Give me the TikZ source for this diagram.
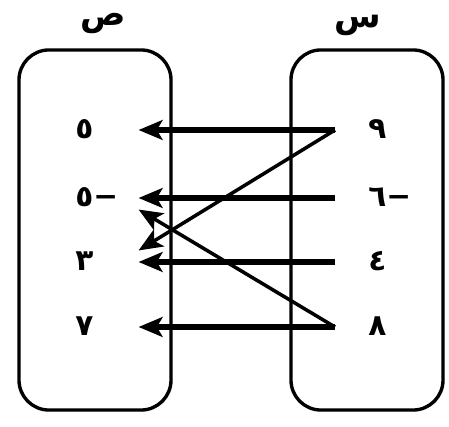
\documentclass[tikz,border=0pt]{standalone}
\usepackage{fontspec}
\newfontfamily\arabicfont[Script=Arabic]{DejaVu Sans}
\TeXXeTstate=1
\usepackage{tikz}
\usetikzlibrary{arrows.meta,shadows}
\tikzset{
  setbox/.style = {draw, line width=2.4pt, rounded corners=0.75cm, fill=white,
                   minimum width=3.8cm, minimum height=9cm,
                   drop shadow={opacity=0.3, shadow xshift=0.8pt, shadow yshift=-1pt}},
  setlab/.style = {font=\arabicfont\bfseries\fontsize{24}{28}\selectfont, inner sep=0pt},
  elem/.style   = {font=\arabicfont\bfseries\fontsize{21}{25}\selectfont, inner ysep=0pt,
                   align=left, text height=14pt, text depth=2pt, anchor=west},
  elemL/.style  = {elem, inner xsep=0pt, text width=1.575cm},
  elemR/.style  = {elem, inner xsep=0.825cm, text width=1cm},
  maps/.style   = {-{Stealth[length=17pt,width=14pt,inset=4pt]}, line width=3.6pt},
  mapd/.style   = {maps, line width=2.5pt},
}

\begin{document}
\begin{tikzpicture}[x=0.025cm, y=-0.025cm]
\useasboundingbox (0,0) rectangle (449,427);
\node[setbox] (setY) at (95,230) {};
\node[setbox] (setX) at (367,230) {};
\node[setlab] (labY) at (103,24) {\beginR ص\endR};
\node[setlab] (labX) at (358,25) {\beginR س\endR};
% values of y
\node[elemL] (l5) at (75,130) {\beginR ٥\endR};
\node[elemL] (lm5) at (75,198) {\beginR −٥\endR};
\node[elemL] (l3) at (75,262) {\beginR ٣\endR};
\node[elemL] (l7) at (75,327) {\beginR ٧\endR};
% values of x
\node[elemR] (r9) at (335,130) {\beginR ٩\endR};
\node[elemR] (rm6) at (335,198) {\beginR −٦\endR};
\node[elemR] (r4) at (335,262) {\beginR ٤\endR};
\node[elemR] (r8) at (335,327) {\beginR ٨\endR};
\draw[maps] (r9.west) -- (l5.east);
\draw[mapd] (r9.west) -- (l3.north east);
\draw[maps] (rm6.west) -- (lm5.east);
\draw[maps] (r4.west) -- (l3.east);
\draw[mapd] (r8.west) -- (lm5.south east);
\draw[maps] (r8.west) -- (l7.east);
\end{tikzpicture}
\end{document}
